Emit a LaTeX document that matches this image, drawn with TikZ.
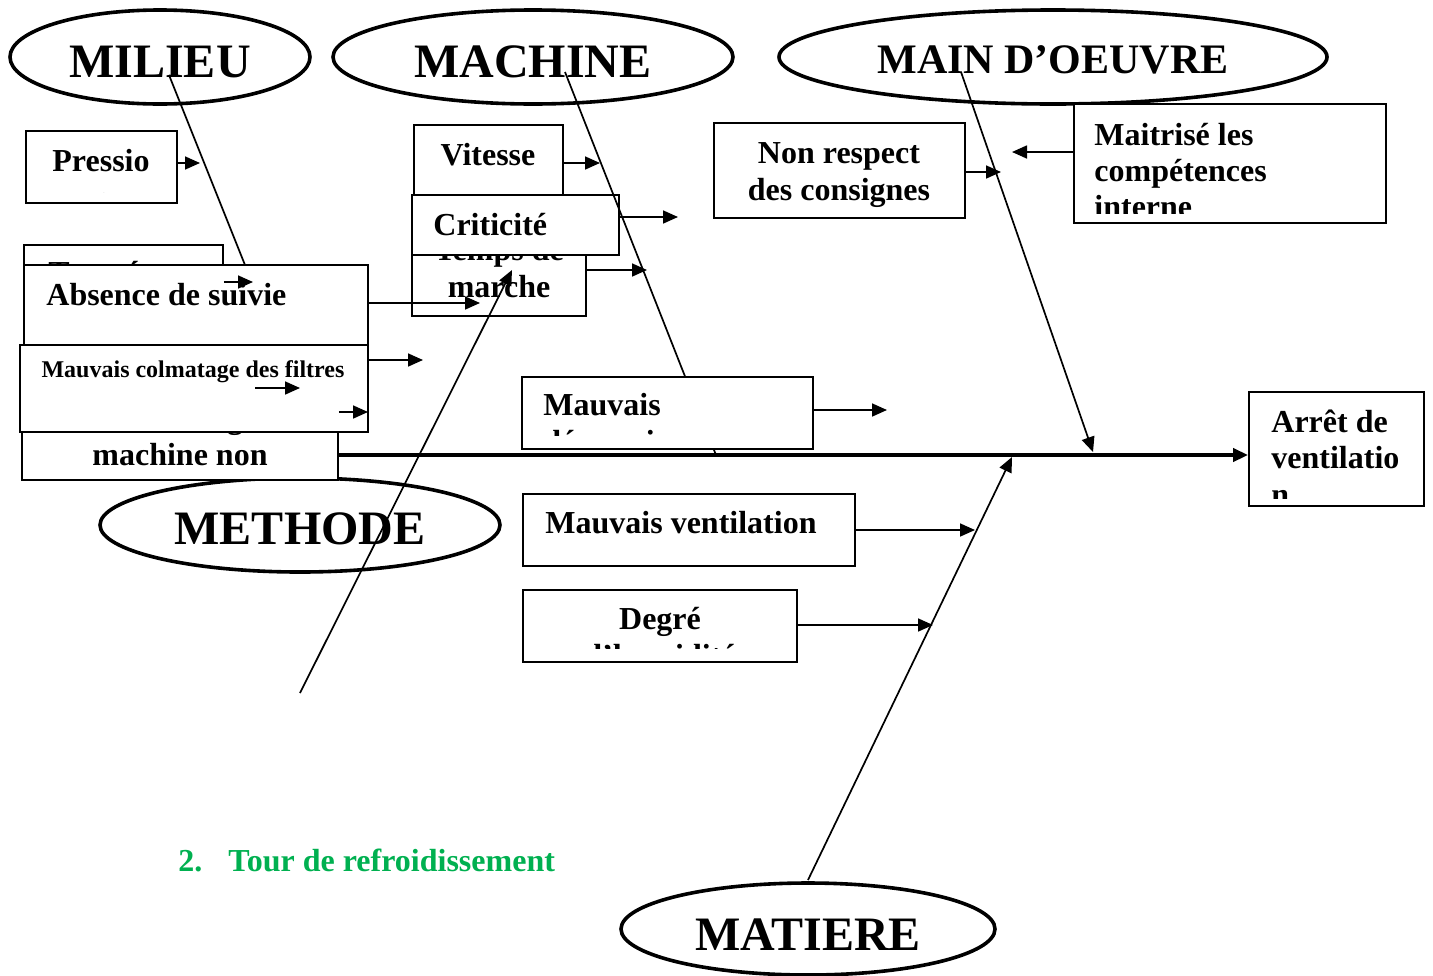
\documentclass[tikz,border=0pt]{standalone}
\usepackage{fontspec}
\setmainfont{Liberation Serif}
\usetikzlibrary{fit,arrows.meta,shapes.geometric}
\definecolor{tourgreen}{HTML}{00B050}
\begin{document}
\begin{tikzpicture}[x=0.5pt,y=-0.5pt,
  box/.style={draw, line width=0.9pt, fill=white, inner sep=0pt, rectangle},
  cat/.style={draw, ellipse, line width=1.8pt, inner sep=0pt},
  cattxt/.style={font=\fontsize{24}{28}\selectfont\bfseries, inner sep=0pt, anchor=base},
  tx/.style={font=\fontsize{16}{18}\selectfont\bfseries, inner sep=0pt},
  bone/.style={line width=0.85pt},
  arr/.style={line width=0.85pt, -{Triangle[length=7.5pt,width=6.5pt]}},
  spine/.style={line width=2pt, -{Triangle[length=7.5pt,width=6.5pt]}},
]
\useasboundingbox (0,0) rectangle (1433,975);

% category ellipses
\node[cat, minimum width=150pt, minimum height=47pt] (milieu) at (160,57) {};
\node[cattxt] (tmilieu) at (160,77) {MILIEU};
\node[cat, minimum width=200pt, minimum height=47pt] (machine) at (533,57) {};
\node[cattxt] (tmachine) at (533,77) {MACHINE};
\node[cat, minimum width=274pt, minimum height=47pt] (main) at (1053,57) {};
\node[cattxt, font=\fontsize{21}{25}\selectfont\bfseries] (tmain) at (1053,73) {MAIN D’OEUVRE};
\node[cat, minimum width=200pt, minimum height=47pt] (methode) at (300,525) {};
\node[cattxt] (tmethode) at (300,544) {METHODE};
\node[cat, minimum width=187pt, minimum height=46pt] (matiere) at (808,929) {};
\node[cattxt] (tmatiere) at (808,950) {MATIERE};

% MILIEU bone
\coordinate (b1s) at (169,75); \coordinate (b1e) at (321,455);
\draw[bone] (b1s) -- (b1e);

% Pressio
\node[box, fit={(26,131) (177,203)}] (pressio) {};
\begin{scope}
\clip (26,131) rectangle (177,192.5);
\node[tx, anchor=base] (tpressio) at (101,171) {Pressio};
\node[tx, anchor=base] (tpressio2) at (101,208) {n};
\end{scope}
\coordinate (apr) at (200,163);
\draw[arr] (pressio.east |- apr) -- (apr);

% Temperature (hidden)
\node[box, fit={(24,245) (223,330)}] (temp) {};
\node[tx, anchor=base west] (ttemp) at (48,283.5) {Température};

% Demarrage machine non
\node[box, fit={(22,395) (338,480)}] (demarr) {};
\node[tx, anchor=base] (tdem1) at (180,428) {Démarrage};
\node[tx, anchor=base] (tdem2) at (180,465) {machine non};

% Absence de suivie
\node[box, fit={(24,265) (368,345)}] (absence) {};
\node[tx, anchor=base west] (tabs) at (46,305) {Absence de suivie};

% Mauvais colmatage
\node[box, fit={(20,345) (368,432)}] (colmat) {};
\node[tx, font=\fontsize{12}{14}\selectfont\bfseries, anchor=base] (tcol) at (193,377) {Mauvais colmatage des filtres};

% Machine boxes
\node[box, fit={(414,125) (563,220)}] (vitesse) {};
\node[tx, anchor=base] (tvit) at (488,165) {Vitesse};
\node[box, fit={(412,230) (586,316)}] (temps) {};
\node[tx, anchor=base] (ttemps1) at (499,260) {Temps de};
\node[tx, anchor=base] (ttemps2) at (499,297) {marche};
\node[box, fit={(412,195) (619,255)}] (crit) {};
\node[tx, anchor=base west] (tcrit) at (433,235) {Criticité};

% left arrows
\coordinate (at1) at (253,282);
\draw[arr] (temp.east |- at1) -- (at1);
\coordinate (ai1s) at (255,388); \coordinate (ai1e) at (300,388);
\draw[arr] (ai1s) -- (ai1e);
\coordinate (ai2e) at (368,412);
\draw[arr] (demarr.east |- ai2e) -- (ai2e);
\coordinate (aab) at (480,303);
\draw[arr] (absence.east |- aab) -- (aab);
\coordinate (acol) at (423,360);
\draw[arr] (colmat.east |- acol) -- (acol);
\coordinate (avit) at (600,163);
\draw[arr] (vitesse.east |- avit) -- (avit);
\coordinate (acrit) at (678,217);
\draw[arr] (crit.east |- acrit) -- (acrit);
\coordinate (atemps) at (647,270);
\draw[arr] (temps.east |- atemps) -- (atemps);

% MACHINE bone
\coordinate (b2s) at (565,72); \coordinate (b2e) at (716,455);
\draw[bone] (b2s) -- (b2e);

% Mauvais depression
\node[box, fit={(522,377) (813,449)}] (mauv) {};
\begin{scope}
\clip (522,377) rectangle (813,435.5);
\node[tx, anchor=base west] (tmauv1) at (543,415) {Mauvais};
\node[tx, anchor=base west] (tmauv2) at (543,452) {dépression};
\end{scope}
\coordinate (amauv) at (887,410);
\draw[arr] (mauv.east |- amauv) -- (amauv);

% Mauvais ventilation
\node[box, fit={(523,494) (855,566)}] (mvent) {};
\node[tx, anchor=base west] (tmvent) at (545,533) {Mauvais ventilation};
\coordinate (amvent) at (975,530);
\draw[arr] (mvent.east |- amvent) -- (amvent);

% Degre
\node[box, fit={(523,590) (797,662)}] (degre) {};
\begin{scope}
\clip (523,590) rectangle (797,648);
\node[tx, anchor=base] (tdeg1) at (660,629) {Degré};
\node[tx, anchor=base] (tdeg2) at (660,666) {d’humidité};
\end{scope}
\coordinate (adeg) at (933,625);
\draw[arr] (degre.east |- adeg) -- (adeg);

% Non respect
\node[box, fit={(714,123) (965,218)}] (nonresp) {};
\node[tx, anchor=base] (tnr1) at (839,163) {Non respect};
\node[tx, anchor=base] (tnr2) at (839,200) {des consignes};
\coordinate (anr) at (1001,172);
\draw[arr] (nonresp.east |- anr) -- (anr);

% Maitrise
\node[box, fit={(1074,104) (1386,223)}] (maitr) {};
\begin{scope}
\clip (1074,104) rectangle (1386,213);
\node[tx, anchor=base west] (tm1) at (1094,145) {Maitrisé les};
\node[tx, anchor=base west] (tm2) at (1094,181) {compétences};
\node[tx, anchor=base west] (tm3) at (1094,217) {interne};
\end{scope}
\coordinate (amt) at (1012,152);
\draw[arr] (maitr.west |- amt) -- (amt);

% Arret
\node[box, fit={(1249,392) (1424,506)}] (arret) {};
\begin{scope}
\clip (1249,392) rectangle (1424,498);
\node[tx, anchor=base west] (ta1) at (1271,432) {Arrêt de};
\node[tx, anchor=base west] (ta2) at (1271,468) {ventilatio};
\node[tx, anchor=base west] (ta3) at (1271,505) {n};
\end{scope}

% spine
\coordinate (sp) at (800,455);
\draw[spine] (demarr.east |- sp) -- (arret.west |- sp);

% other bones
\coordinate (b3s) at (961,72); \coordinate (b3e) at (1093,452);
\draw[arr] (b3s) -- (b3e);
\coordinate (b4s) at (300,693); \coordinate (b4e) at (512,270);
\draw[arr] (b4s) -- (b4e);
\coordinate (b5s) at (808,880); \coordinate (b5e) at (1012,457);
\draw[arr] (b5s) -- (b5e);

% caption
\node[font=\fontsize{16}{18}\selectfont\bfseries, text=tourgreen, inner sep=0pt, anchor=base west] (tnum) at (178,871) {2.};
\node[font=\fontsize{16}{18}\selectfont\bfseries, text=tourgreen, inner sep=0pt, anchor=base west] (ttour) at (228,871) {Tour de refroidissement};
\end{tikzpicture}
\end{document}
